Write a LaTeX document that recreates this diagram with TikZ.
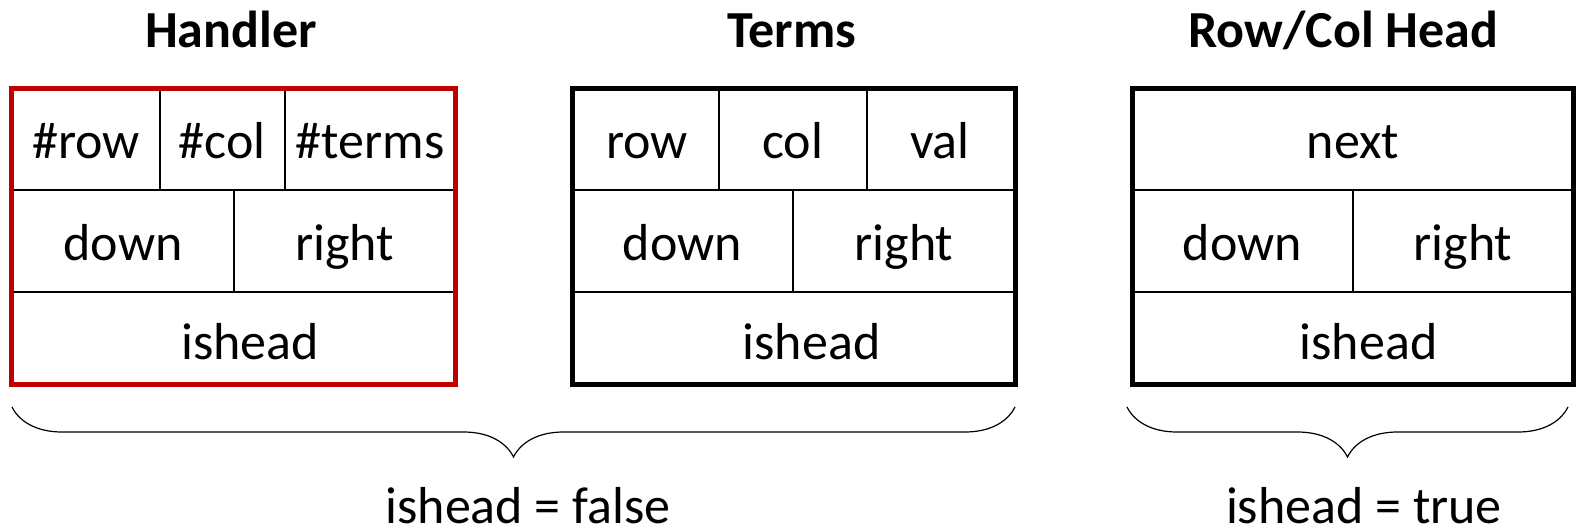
\documentclass[tikz,border=0pt]{standalone}
\usepackage{fontspec}
\setmainfont{Carlito}
\usepackage{xcolor}
\usepackage{tikz}
\usetikzlibrary{decorations.pathreplacing}
\definecolor{framered}{RGB}{192,0,0}

\begin{document}
\begin{tikzpicture}[x=0.5pt,y=0.5pt,
    frame/.style={line width=2.5pt},
    grid/.style={line width=1pt},
    field/.style={anchor=base,inner sep=0pt,font=\fontsize{26}{31}\selectfont},
    title/.style={anchor=base,inner sep=0pt,font=\fontsize{26}{31}\selectfont\bfseries},
    curly/.style={line width=0.6pt,decorate,decoration={brace,amplitude=25pt,mirror}}]
  \useasboundingbox (0,0) rectangle (1576,-530);
  % Handler
  \begin{scope}[shift={(11.5,0)}]
    \draw[grid] (0,-190)--(443.5,-190) (0,-292)--(443.5,-292);
    \draw[grid] (148.5,-88.5)--(148.5,-190) (273.5,-88.5)--(273.5,-190);
    \draw[grid] (222.5,-190)--(222.5,-292);
    \draw[frame,framered] (0,-88.5) rectangle (443.5,-384.5);
    \node[title] (ttl-h) at (219.5,-47) {Handler};
    \node[field] (h-row) at (74.5,-158) {\#row};
    \node[field] (h-col) at (210.5,-158) {\#col};
    \node[field] (h-terms) at (358.5,-158) {\#terms};
    \node[field] (h-down) at (111.5,-260) {down};
    \node[field] (h-right) at (333,-260) {right};
    \node[field] (h-head) at (238.5,-359) {ishead};
  \end{scope}
  % Terms
  \begin{scope}[shift={(572,0)}]
    \draw[grid] (0,-190)--(443,-190) (0,-292)--(443,-292);
    \draw[grid] (147,-88.5)--(147,-190) (295,-88.5)--(295,-190);
    \draw[grid] (221,-190)--(221,-292);
    \draw[frame] (0,-88.5) rectangle (443,-384.5);
    \node[title] (ttl-t) at (220,-47) {Terms};
    \node[field] (t-row) at (75,-158) {row};
    \node[field] (t-col) at (220.5,-158) {col};
    \node[field] (t-val) at (368,-158) {val};
    \node[field] (t-down) at (110.5,-260) {down};
    \node[field] (t-right) at (332,-260) {right};
    \node[field] (t-head) at (239.5,-359) {ishead};
  \end{scope}
  % Row/Col Head
  \begin{scope}[shift={(1132,0)}]
    \draw[grid] (0,-190)--(441,-190) (0,-292)--(441,-292);
    \draw[grid] (221,-190)--(221,-292);
    \draw[frame] (0,-88.5) rectangle (441,-384.5);
    \node[title] (ttl-rc) at (211.5,-47) {Row/Col Head};
    \node[field] (rc-next) at (221,-158) {next};
    \node[field] (rc-down) at (110.5,-260) {down};
    \node[field] (rc-right) at (331,-260) {right};
    \node[field] (rc-head) at (236.5,-359) {ishead};
  \end{scope}
  % braces
  \coordinate (bf-a) at (12,-407);
  \coordinate (bf-b) at (1015,-407);
  \coordinate (bt-a) at (1127,-407);
  \coordinate (bt-b) at (1568,-407);
  \draw[curly] (bf-a) -- (bf-b);
  \draw[curly] (bt-a) -- (bt-b);
  \node[field] (lbl-false) at (528,-523) {ishead = false};
  \node[field] (lbl-true) at (1364,-523) {ishead = true};
\end{tikzpicture}
\end{document}
